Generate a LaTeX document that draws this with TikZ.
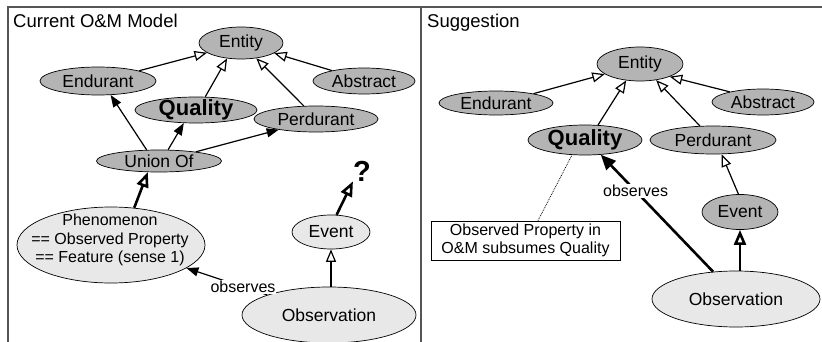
\documentclass[tikz,border=0pt]{standalone}
\usepackage{fontspec}
\setmainfont{Liberation Sans}
\usetikzlibrary{shapes.geometric,arrows.meta}
\definecolor{dkgray}{RGB}{180,180,180}
\definecolor{ltgray}{RGB}{232,232,232}
\definecolor{framec}{RGB}{85,85,85}
\begin{document}
\begin{tikzpicture}[x=1pt,y=-1pt,
  ell/.style={ellipse, draw=black, line width=0.7pt, inner xsep=-15pt, inner ysep=-8pt, font=\fontsize{17.5}{20}\selectfont},
  dk/.style={ell, fill=dkgray},
  lt/.style={ell, fill=ltgray},
  bigq/.style={font=\fontsize{22}{24}\selectfont\bfseries},
  lbl/.style={fill=white, inner sep=1pt, font=\fontsize{16}{18}\selectfont},
  ttl/.style={anchor=base west, inner sep=0pt, font=\fontsize{18.5}{20}\selectfont},
  opn/.style={line width=1.2pt, -{Triangle[open, length=12.5pt, width=10pt]}},
  opnthick/.style={line width=2.6pt, -{Triangle[open, length=15pt, width=12pt]}},
  fil/.style={line width=1.2pt, -{Triangle[length=12pt, width=9pt]}},
  filthick/.style={line width=2.6pt, -{Triangle[length=15pt, width=13pt]}},
  framel/.style={draw=framec, line width=1.5pt}
]
\useasboundingbox (0,0) rectangle (822,342);
% frame
\draw[framel] (8,342) -- (8,7) -- (822,7);
\draw[framel] (421,7) -- (421,342);
% titles
\node[ttl] (t1) at (13,28) {Current O\&M Model};
\node[ttl] (t2) at (427,28) {Suggestion};

% ---------- left panel ----------
\node[dk, minimum width=84pt, minimum height=32pt] (entL) at (241,43) {Entity};
\node[dk, minimum width=116pt, minimum height=28pt] (endL) at (98,81) {Endurant};
\node[dk, minimum width=102pt, minimum height=26pt] (absL) at (364,81) {Abstract};
\node[dk, bigq, minimum width=122pt, minimum height=26pt] (quaL) at (196,110) {Quality};
\node[dk, minimum width=124pt, minimum height=26pt] (perL) at (316,119) {Perdurant};
\node[dk, minimum width=125pt, minimum height=22pt] (uniL) at (159,161) {Union Of};
\node[lt, minimum width=188pt, minimum height=76pt] (phen) at (111,245) {};
\node[align=center, inner sep=0pt, font=\fontsize{16}{18.5}\selectfont] (phentxt) at (110,240) {Phenomenon\\== Observed Property\\== Feature (sense 1)};
\node[lt, minimum width=78pt, minimum height=34pt] (evL) at (331,232) {Event};
\node[lt, minimum width=174pt, minimum height=56pt] (obsL) at (329,315) {Observation};
\node[inner sep=0pt, font=\fontsize{29}{30}\selectfont\bfseries] (q) at (362,171) {?};

\draw[opn] (endL.14) -- (entL.196);
\draw[opn] (quaL.55) -- (entL.228);
\draw[opn] (perL.133) -- (entL.315);
\draw[opn] (absL.162) -- (entL.343);
\draw[fil] (uniL.138) -- (endL.312);
\draw[fil] (uniL.51) -- (quaL.227);
\draw[fil] (uniL.14.5) -- (perL.196);
\draw[opnthick] (phen.58) -- (uniL.225);
\draw[opnthick] (evL.72) -- (q.south west);
\draw[opn] (evL.south |- obsL.north) -- (evL.south);
\draw[fil] (obsL.162) -- node[lbl, pos=0.3] (obslblL) {observes} (phen.343.6);

% ---------- right panel ----------
\node[dk, minimum width=86pt, minimum height=34pt] (entR) at (640,64) {Entity};
\node[dk, minimum width=114pt, minimum height=24pt] (endR) at (496,103) {Endurant};
\node[dk, minimum width=102pt, minimum height=26pt] (absR) at (763,102) {Abstract};
\node[dk, bigq, minimum width=114pt, minimum height=30pt] (quaR) at (585,140) {Quality};
\node[dk, minimum width=126pt, minimum height=28pt] (perR) at (713,140) {Perdurant};
\node[dk, minimum width=76pt, minimum height=35pt] (evR) at (740,212) {Event};
\node[lt, minimum width=168pt, minimum height=56pt] (obsR) at (736,299) {Observation};
\node[draw, line width=0.8pt, minimum width=189pt, minimum height=39pt, align=center, inner sep=0pt, font=\fontsize{16}{18}\selectfont] (box) at (525.5,240.5) {Observed Property in\\O\&M subsumes Quality};

\draw[opn] (endR.14) -- (entR.196);
\draw[opn] (quaR.49) -- (entR.230);
\draw[opn] (perR.133) -- (entR.315);
\draw[opn] (absR.163) -- (entR.337);
\draw[opn] (evR.95) -- (perR.301);
\draw[opnthick] (evR.south |- obsR.north) -- (evR.south);
\draw[filthick] (obsR.130) -- node[lbl, pos=0.69] (obslblR) {observes} (quaR.317);
\draw[densely dotted, line width=0.8pt] ([xshift=12.5pt]box.north) -- (quaR.229);
\end{tikzpicture}
\end{document}
